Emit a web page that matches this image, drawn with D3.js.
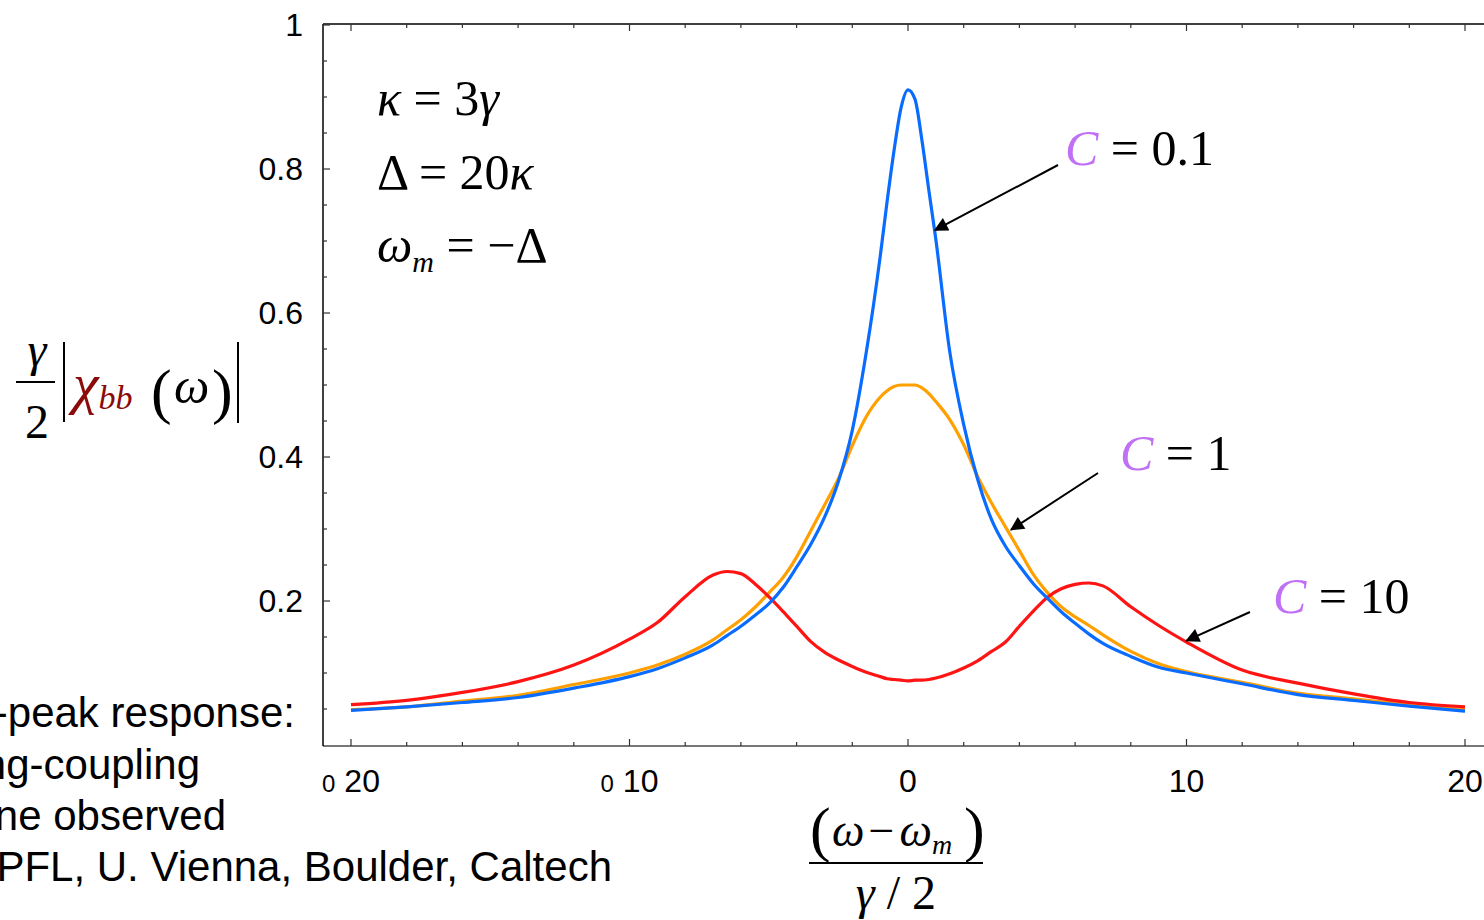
<!DOCTYPE html>
<html>
<head>
<meta charset="utf-8">
<script src="https://cdn.jsdelivr.net/npm/d3@7"></script>
<style>
  body { margin: 0; background: #fff; }
  text { font-family: "Liberation Sans", Arial, sans-serif; }
  .m { font-family: "Liberation Serif", "Times New Roman", serif; }
</style>
</head>
<body>
<svg id="chart" width="1484" height="920"></svg>
<script>
// detuning (omega - omega_m)/(gamma/2)
var xs = [-20, -18, -16, -14, -12, -10, -9, -8, -7, -6.5, -6, -5.5, -5, -4.5, -4, -3.5, -3, -2.5, -2, -1.5, -1, -0.75, -0.5, -0.25, 0,
          0.25, 0.5, 0.75, 1, 1.5, 2, 2.5, 3, 3.5, 4, 4.5, 5, 5.5, 6, 6.5, 7, 8, 9, 10, 12, 14, 16, 18, 20];

// C = 0.1 (blue)
var c01 = [0.048, 0.053, 0.059, 0.066, 0.079, 0.095, 0.106, 0.121, 0.139, 0.152, 0.165, 0.180, 0.196, 0.218, 0.247, 0.278, 0.316, 0.366, 0.437, 0.545, 0.678, 0.755, 0.826, 0.885, 0.910,
           0.897, 0.840, 0.770, 0.702, 0.546, 0.445, 0.369, 0.313, 0.276, 0.249, 0.224, 0.204, 0.185, 0.169, 0.154, 0.141, 0.123, 0.108, 0.100, 0.085, 0.070, 0.062, 0.054, 0.047];

// C = 1 (orange)
var c1 = [0.049, 0.053, 0.061, 0.069, 0.084, 0.100, 0.111, 0.126, 0.146, 0.160, 0.174, 0.191, 0.211, 0.232, 0.261, 0.297, 0.333, 0.370, 0.416, 0.456, 0.483, 0.492, 0.498, 0.500, 0.500,
          0.500, 0.496, 0.488, 0.477, 0.452, 0.417, 0.373, 0.336, 0.303, 0.270, 0.237, 0.212, 0.192, 0.178, 0.166, 0.153, 0.130, 0.113, 0.102, 0.087, 0.072, 0.064, 0.056, 0.049];

// C = 10 (red)
var c10 = [0.056, 0.062, 0.073, 0.088, 0.111, 0.147, 0.170, 0.206, 0.236, 0.241, 0.238, 0.224, 0.206, 0.186, 0.165, 0.144, 0.129, 0.118, 0.109, 0.101, 0.095, 0.092, 0.091, 0.090, 0.089,
           0.090, 0.090, 0.091, 0.093, 0.099, 0.107, 0.117, 0.130, 0.143, 0.165, 0.186, 0.205, 0.217, 0.223, 0.225, 0.221, 0.192, 0.166, 0.143, 0.104, 0.086, 0.071, 0.059, 0.053];

var xMajor = [-20, -10, 0, 10, 20];
var xMinor = [-18, -16, -14, -12, -8, -6, -4, -2, 2, 4, 6, 8, 12, 14, 16, 18];
var yMajor = [0.2, 0.4, 0.6, 0.8, 1];
var yLabels = ["0.2", "0.4", "0.6", "0.8", "1"];
var yMinor = [0.05, 0.1, 0.15, 0.25, 0.3, 0.35, 0.45, 0.5, 0.55, 0.65, 0.7, 0.75, 0.85, 0.9, 0.95];

var series = [
  { name: "C=1", vals: c1, color: "#ffa000" },
  { name: "C=10", vals: c10, color: "#ff1414" },
  { name: "C=0.1", vals: c01, color: "#0a6cff" }
];

var svg = d3.select("#chart");

var x = d3.scaleLinear().domain([-20, 20]).range([351, 1465]);
var y = d3.scaleLinear().domain([0, 1]).range([745, 25]);

// plot frame edges (window.top is read-only, so no "top" here)
var frameL = 323, frameT = 24, frameB = 746, frameR = 1490;

svg.append("line").attr("x1", frameL).attr("x2", frameR).attr("y1", frameB).attr("y2", frameB)
  .attr("stroke", "#777").attr("stroke-width", 2);
svg.append("line").attr("x1", frameL).attr("x2", frameR).attr("y1", frameT).attr("y2", frameT)
  .attr("stroke", "#000").attr("stroke-width", 1.5);
svg.append("line").attr("x1", frameL).attr("x2", frameL).attr("y1", frameT).attr("y2", frameB)
  .attr("stroke", "#000").attr("stroke-width", 1.5);

// ticks (all inward)
function xTicks(vals, len) {
  svg.selectAll(null).data(vals).enter().append("line")
    .attr("x1", d => x(d)).attr("x2", d => x(d))
    .attr("y1", frameB).attr("y2", frameB - len)
    .attr("stroke", "#333").attr("stroke-width", 1.2);
  svg.selectAll(null).data(vals).enter().append("line")
    .attr("x1", d => x(d)).attr("x2", d => x(d))
    .attr("y1", frameT).attr("y2", frameT + len)
    .attr("stroke", "#333").attr("stroke-width", 1.2);
}
xTicks(xMajor, 7);
xTicks(xMinor, 4);

function yTicks(vals, len) {
  svg.selectAll(null).data(vals).enter().append("line")
    .attr("x1", frameL).attr("x2", frameL + len)
    .attr("y1", d => y(d)).attr("y2", d => y(d))
    .attr("stroke", "#333").attr("stroke-width", 1.2);
}
yTicks(yMajor, 7);
yTicks(yMinor, 4);

// tick labels
svg.selectAll(null).data(yMajor).enter().append("text")
  .attr("x", 303).attr("y", d => y(d) + 11)
  .attr("text-anchor", "end").attr("font-size", 32)
  .text((d, i) => yLabels[i]);

var xl = svg.selectAll(null).data(xMajor).enter().append("text")
  .attr("x", d => x(d)).attr("y", 792)
  .attr("text-anchor", "middle").attr("font-size", 32);
xl.each(function(d) {
  var t = d3.select(this);
  if (d < 0) {
    // minus glyph shows up as a small 0 in the original
    t.append("tspan").attr("font-size", 24).text("0");
    t.append("tspan").text(" " + Math.abs(d));
  } else {
    t.text(d);
  }
});

// curves
var line = d3.line()
  .x((d, i) => x(xs[i]))
  .y(d => y(d))
  .curve(d3.curveMonotoneX);

svg.selectAll(null).data(series).enter().append("path")
  .attr("d", s => line(s.vals))
  .attr("fill", "none")
  .attr("stroke", s => s.color)
  .attr("stroke-width", 3.2)
  .attr("stroke-linejoin", "round");

// arrow heads
svg.append("defs").append("marker")
  .attr("id", "tri").attr("viewBox", "0 0 10 10")
  .attr("refX", 9).attr("refY", 5)
  .attr("markerWidth", 9).attr("markerHeight", 7)
  .attr("markerUnits", "strokeWidth")
  .attr("orient", "auto")
  .append("path").attr("d", "M0,0 L10,5 L0,10 Z").attr("fill", "#000");

// arrows: label anchor -> point on curve (x in data units)
var arrows = [
  { from: [1058, 165], to: [0.97, 0.715] },
  { from: [1098, 473], to: [3.7, 0.299] },
  { from: [1250, 612], to: [10.0, 0.145] }
];
svg.selectAll(null).data(arrows).enter().append("line")
  .attr("x1", d => d.from[0]).attr("y1", d => d.from[1])
  .attr("x2", d => x(d.to[0])).attr("y2", d => y(d.to[1]))
  .attr("stroke", "#000").attr("stroke-width", 2)
  .attr("marker-end", "url(#tri)");

// C labels
function cLabel(xp, yp, val) {
  var t = svg.append("text").attr("class", "m").attr("x", xp).attr("y", yp).attr("font-size", 50);
  t.append("tspan").attr("font-style", "italic").attr("fill", "#c070f5").text("C");
  t.append("tspan").text(" = " + val);
}
cLabel(1065, 165, "0.1");
cLabel(1120, 470, "1");
cLabel(1273, 613, "10");

// parameter block
var p1 = svg.append("text").attr("class", "m").attr("x", 377).attr("y", 115).attr("font-size", 50);
p1.append("tspan").attr("font-style", "italic").text("κ");
p1.append("tspan").text(" = 3");
p1.append("tspan").attr("font-style", "italic").text("γ");

var p2 = svg.append("text").attr("class", "m").attr("x", 377).attr("y", 189).attr("font-size", 50);
p2.append("tspan").text("Δ = 20");
p2.append("tspan").attr("font-style", "italic").text("κ");

var p3 = svg.append("text").attr("class", "m").attr("x", 377).attr("y", 262).attr("font-size", 50);
p3.append("tspan").attr("font-style", "italic").text("ω");
p3.append("tspan").attr("font-style", "italic").attr("font-size", 30).attr("dy", 10).text("m");
p3.append("tspan").attr("dy", -10).text(" = −Δ");

// y axis label
var yl = svg.append("g");
yl.append("text").attr("class", "m").attr("x", 37).attr("y", 366).attr("text-anchor", "middle")
  .attr("font-size", 48).attr("font-style", "italic").text("γ");
yl.append("line").attr("x1", 16).attr("x2", 55).attr("y1", 382).attr("y2", 382)
  .attr("stroke", "#000").attr("stroke-width", 2);
yl.append("text").attr("class", "m").attr("x", 37).attr("y", 438).attr("text-anchor", "middle")
  .attr("font-size", 48).text("2");
yl.append("line").attr("x1", 64).attr("x2", 64).attr("y1", 342).attr("y2", 422)
  .attr("stroke", "#000").attr("stroke-width", 2);
yl.append("line").attr("x1", 238).attr("x2", 238).attr("y1", 342).attr("y2", 423)
  .attr("stroke", "#000").attr("stroke-width", 2);
var chi = yl.append("text").attr("class", "m").attr("x", 73).attr("y", 403).attr("font-size", 58)
  .attr("font-style", "italic").attr("fill", "#8b0a0a");
chi.append("tspan").text("χ");
chi.append("tspan").attr("font-size", 34).attr("dy", 6).text("bb");
yl.append("text").attr("class", "m").attr("x", 151).attr("y", 412).attr("font-size", 62).text("(");
yl.append("text").attr("class", "m").attr("x", 174).attr("y", 403).attr("font-size", 50)
  .attr("font-style", "italic").text("ω");
yl.append("text").attr("class", "m").attr("x", 212).attr("y", 412).attr("font-size", 62).text(")");

// x axis label
var xlab = svg.append("g");
xlab.append("text").attr("class", "m").attr("x", 810).attr("y", 850).attr("font-size", 62).text("(");
var num = xlab.append("text").attr("class", "m").attr("x", 832).attr("y", 846).attr("font-size", 46);
num.append("tspan").attr("font-style", "italic").text("ω");
num.append("tspan").attr("dx", 4).text("−");
num.append("tspan").attr("dx", 5).attr("font-style", "italic").text("ω");
num.append("tspan").attr("font-style", "italic").attr("font-size", 28).attr("dy", 8).text("m");
xlab.append("text").attr("class", "m").attr("x", 964).attr("y", 850).attr("font-size", 62).text(")");
xlab.append("line").attr("x1", 809).attr("x2", 983).attr("y1", 863).attr("y2", 863)
  .attr("stroke", "#000").attr("stroke-width", 2);
var den = xlab.append("text").attr("class", "m").attr("x", 896).attr("y", 909)
  .attr("text-anchor", "middle").attr("font-size", 48);
den.append("tspan").attr("font-style", "italic").text("γ");
den.append("tspan").text(" / 2");

// slide text cut off on the left
var notes = [
  { t: "-peak response:", x: 295, y: 727 },
  { t: "ng-coupling", x: 200, y: 779 },
  { t: "ne observed", x: 226, y: 830 },
  { t: "PFL, U. Vienna, Boulder, Caltech", x: 612, y: 881 }
];
svg.selectAll(null).data(notes).enter().append("text")
  .attr("x", d => d.x).attr("y", d => d.y)
  .attr("text-anchor", "end").attr("font-size", 42)
  .text(d => d.t);
</script>
</body>
</html>
